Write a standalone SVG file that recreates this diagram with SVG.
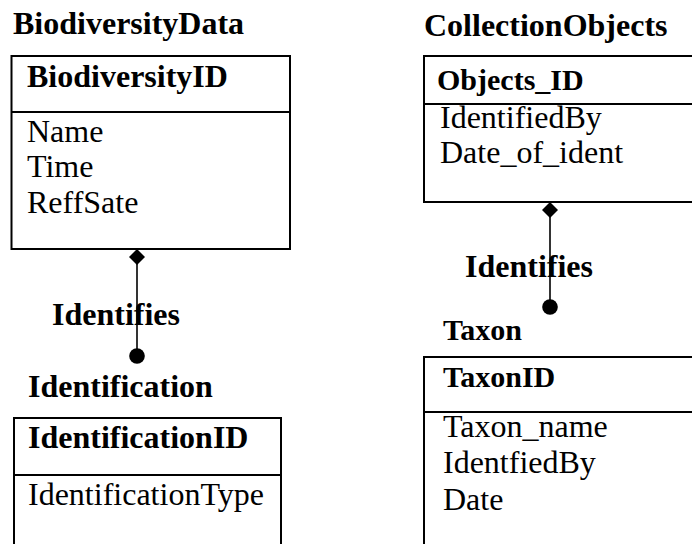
<svg xmlns="http://www.w3.org/2000/svg" width="692" height="544" viewBox="0 0 692 544">
  <style>
    .title { font-family: "Liberation Serif", "Times New Roman", serif; font-weight: bold; font-size: 32px; fill: #000; }
    .key { font-family: "Liberation Serif", "Times New Roman", serif; font-weight: bold; font-size: 32px; fill: #000; }
    .attr { font-family: "Liberation Serif", "Times New Roman", serif; font-size: 32px; fill: #000; }
    .box { fill: #fff; stroke: #000; stroke-width: 2; }
    .div { stroke: #000; stroke-width: 2; }
    .link { stroke: #000; stroke-width: 1.6; fill: none; }
  </style>
  <defs>
    <!-- filled diamond hanging below the owning box -->
    <marker id="diamond" markerUnits="userSpaceOnUse" markerWidth="18" markerHeight="18" refX="9" refY="0.5" orient="0" viewBox="0 0 18 18">
      <path d="M9 0.5 L17 8.5 L9 16.5 L1 8.5 Z" fill="#000"/>
    </marker>
    <!-- filled dot at the dependent end -->
    <marker id="dot" markerUnits="userSpaceOnUse" markerWidth="18" markerHeight="18" refX="9" refY="9" orient="0" viewBox="0 0 18 18">
      <circle cx="9" cy="9" r="7.8" fill="#000"/>
    </marker>
  </defs>
  <rect width="692" height="544" fill="#fff"/>

  <g id="biodiversity-data">
    <text class="title" x="13" y="34">BiodiversityData</text>
    <rect class="box" x="11.5" y="56" width="278.5" height="193"/>
    <line class="div" x1="11.5" y1="112" x2="290" y2="112"/>
    <text class="key" x="27" y="87">BiodiversityID</text>
    <text class="attr" x="27" y="142">Name</text>
    <text class="attr" x="27" y="177">Time</text>
    <text class="attr" x="27" y="213">ReffSate</text>
  </g>

  <g id="collection-objects">
    <text class="title" x="424" y="36">CollectionObjects</text>
    <rect class="box" x="424" y="56" width="290" height="146"/>
    <line class="div" x1="424" y1="104" x2="714" y2="104"/>
    <text class="key" x="437" y="90" style="font-size:30px">Objects_ID</text>
    <text class="attr" x="440" y="128">IdentifiedBy</text>
    <text class="attr" x="440" y="163">Date_of_ident</text>
  </g>

  <g id="identification">
    <text class="title" x="28" y="397">Identification</text>
    <rect class="box" x="14" y="418" width="267" height="140"/>
    <line class="div" x1="14" y1="475" x2="281" y2="475"/>
    <text class="key" x="28" y="448">IdentificationID</text>
    <text class="attr" x="28" y="505">IdentificationType</text>
  </g>

  <g id="taxon">
    <text class="title" x="443" y="340" style="font-size:30px">Taxon</text>
    <rect class="box" x="424" y="357" width="290" height="200"/>
    <line class="div" x1="424" y1="412" x2="714" y2="412"/>
    <text class="key" x="443" y="387" style="font-size:30px">TaxonID</text>
    <text class="attr" x="443" y="437">Taxon_name</text>
    <text class="attr" x="443" y="473">IdentfiedBy</text>
    <text class="attr" x="443" y="510">Date</text>
  </g>

  <g id="connectors">
    <line class="link" x1="137" y1="249" x2="137" y2="356" marker-start="url(#diamond)" marker-end="url(#dot)"/>
    <text class="title" x="52" y="325">Identifies</text>
    <line class="link" x1="550" y1="202" x2="550" y2="307" marker-start="url(#diamond)" marker-end="url(#dot)"/>
    <text class="title" x="465" y="277">Identifies</text>
  </g>
</svg>
